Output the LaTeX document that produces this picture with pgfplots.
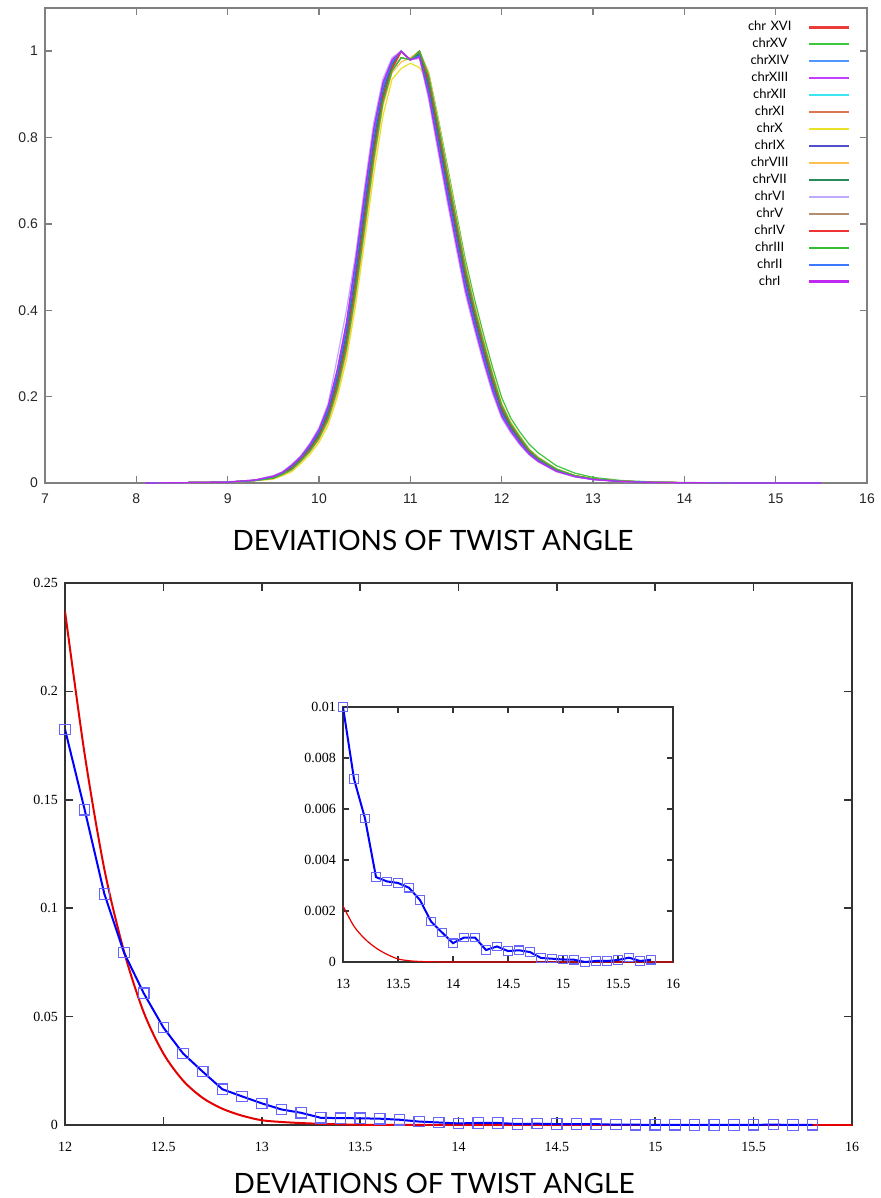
\documentclass[border=0pt]{standalone}
\usepackage{fontspec}
\usepackage{pgfplots}
\usepackage{pgfplotstable}
\pgfplotsset{compat=1.18}
\newfontfamily\gill{Lato}
\newfontfamily\helv{Liberation Sans}
\newfontfamily\tms{Liberation Serif}

\definecolor{cXVI}{RGB}{235,60,60}
\definecolor{cXV}{RGB}{60,200,60}
\definecolor{cXIV}{RGB}{80,150,255}
\definecolor{cXIII}{RGB}{200,60,255}
\definecolor{cXII}{RGB}{60,230,240}
\definecolor{cXI}{RGB}{220,120,80}
\definecolor{cX}{RGB}{235,225,40}
\definecolor{cIX}{RGB}{80,80,200}
\definecolor{cVIII}{RGB}{255,190,80}
\definecolor{cVII}{RGB}{40,140,90}
\definecolor{cVI}{RGB}{190,170,255}
\definecolor{cV}{RGB}{180,140,110}
\definecolor{cIV}{RGB}{240,50,50}
\definecolor{cIII}{RGB}{50,190,50}
\definecolor{cII}{RGB}{60,120,255}
\definecolor{cI}{RGB}{190,40,240}

% normalised histograms, one column per curve profile
\pgfplotstableread{
x    m4     m3     m2     m1     z0     p1     p2     p3     yel    grn
8.1  0      0      0      0      0      0      0      0      0      0
8.6  0.001  0.001  0.001  0.001  0.001  0.001  0.001  0.001  0.001  0.001
9.0  0.003  0.002  0.002  0.002  0.002  0.002  0.002  0.002  0.002  0.002
9.3  0.007  0.007  0.006  0.006  0.006  0.006  0.006  0.006  0.005  0.006
9.5  0.017  0.016  0.015  0.014  0.013  0.012  0.011  0.010  0.009  0.011
9.6  0.026  0.025  0.024  0.023  0.022  0.021  0.020  0.019  0.017  0.020
9.7  0.043  0.041  0.039  0.037  0.035  0.033  0.031  0.029  0.026  0.031
9.8  0.063  0.061  0.059  0.057  0.055  0.053  0.051  0.049  0.045  0.051
9.9  0.092  0.089  0.086  0.083  0.080  0.077  0.074  0.071  0.066  0.074
10.0 0.128  0.124  0.120  0.116  0.112  0.108  0.104  0.100  0.094  0.104
10.1 0.184  0.178  0.172  0.166  0.160  0.154  0.148  0.142  0.134  0.148
10.2 0.290  0.262  0.253  0.244  0.235  0.226  0.217  0.208  0.198  0.217
10.3 0.400  0.371  0.359  0.347  0.335  0.323  0.311  0.299  0.285  0.311
10.4 0.528  0.514  0.499  0.485  0.470  0.456  0.441  0.427  0.410  0.441
10.5 0.687  0.672  0.656  0.641  0.625  0.610  0.594  0.579  0.560  0.594
10.6 0.836  0.822  0.808  0.794  0.780  0.766  0.752  0.738  0.715  0.752
10.7 0.936  0.927  0.918  0.909  0.900  0.891  0.882  0.873  0.850  0.882
10.8 0.985  0.980  0.975  0.970  0.965  0.960  0.955  0.950  0.935  0.955
10.9 1.000  1.000  1.000  1.000  1.000  0.999  0.985  0.975  0.960  0.985
11.0 0.980  0.980  0.980  0.980  0.980  0.980  0.980  0.985  0.972  0.980
11.1 0.983  0.986  0.989  0.992  0.995  1.000  1.000  1.000  0.962  1.000
11.2 0.889  0.898  0.907  0.916  0.925  0.934  0.943  0.952  0.925  0.950
11.3 0.771  0.782  0.793  0.804  0.815  0.826  0.837  0.848  0.830  0.850
11.4 0.656  0.667  0.678  0.689  0.700  0.711  0.722  0.733  0.715  0.740
11.5 0.546  0.557  0.568  0.579  0.590  0.601  0.612  0.623  0.600  0.630
11.6 0.440  0.450  0.460  0.470  0.480  0.490  0.500  0.510  0.490  0.520
11.7 0.356  0.365  0.373  0.382  0.390  0.399  0.407  0.416  0.400  0.428
11.8 0.278  0.286  0.294  0.302  0.310  0.318  0.326  0.334  0.318  0.345
11.9 0.207  0.214  0.221  0.228  0.235  0.242  0.249  0.256  0.242  0.268
12.0 0.150  0.155  0.160  0.165  0.170  0.175  0.180  0.185  0.176  0.198
12.1 0.116  0.120  0.123  0.127  0.130  0.134  0.137  0.141  0.134  0.150
12.2 0.088  0.091  0.094  0.097  0.100  0.103  0.106  0.109  0.103  0.118
12.3 0.065  0.067  0.069  0.071  0.073  0.075  0.077  0.079  0.075  0.090
12.4 0.049  0.050  0.052  0.054  0.055  0.057  0.058  0.060  0.056  0.070
12.6 0.026  0.027  0.028  0.029  0.030  0.031  0.032  0.033  0.031  0.040
12.8 0.014  0.015  0.015  0.016  0.016  0.017  0.017  0.018  0.017  0.023
13.0 0.008  0.008  0.0085 0.009  0.009  0.0095 0.0095 0.010  0.009  0.013
13.3 0.0035 0.0035 0.0038 0.004  0.004  0.0042 0.0043 0.0045 0.004  0.006
13.7 0.001  0.001  0.0011 0.0012 0.0012 0.0013 0.0013 0.0014 0.0012 0.002
14.3 0.0003 0.0003 0.0003 0.0003 0.0003 0.0003 0.0003 0.0003 0.0003 0.0005
15.5 0      0      0      0      0      0      0      0      0      0
}\topdata

\pgfplotstableread{
x    y
12.0 0.1825
12.1 0.1454
12.2 0.1066
12.3 0.0795
12.4 0.0608
12.5 0.0450
12.6 0.0330
12.7 0.0246
12.8 0.0165
12.9 0.0132
13.0 0.0100
13.1 0.00718
13.2 0.00563
13.3 0.00333
13.4 0.00316
13.5 0.00310
13.6 0.00291
13.7 0.00243
13.8 0.00159
13.9 0.00116
14.0 0.00074
14.1 0.00096
14.2 0.00096
14.3 0.00047
14.4 0.00061
14.5 0.00043
14.6 0.00046
14.7 0.00039
14.8 0.00016
14.9 0.00013
15.0 0.00010
15.1 0.00009
15.2 0.00000
15.3 0.00004
15.4 0.00004
15.5 0.00008
15.6 0.00017
15.7 0.00004
15.8 0.00009
}\bluedata

\pgfplotstableread{
x    y
12.0 0.237
12.1 0.171
12.2 0.118
12.3 0.080
12.4 0.052
12.5 0.033
12.6 0.0205
12.7 0.0125
12.8 0.0075
12.9 0.0043
13.0 0.0022
13.1 0.0014
13.2 0.0009
13.3 0.00055
13.4 0.0003
13.5 0.00012
13.6 0.00005
13.7 0.00002
13.8 0.00001
14.0 0
15.0 0
16.0 0
}\reddata

\begin{document}
\begin{tikzpicture}
\path[use as bounding box] (0,0) rectangle (440.5pt,-599pt);

% ---- top panel ----
\begin{axis}[
  at={(22.5pt,-241.5pt)}, anchor=south west,
  scale only axis, width=411pt, height=237.5pt,
  xmin=7, xmax=16, ymin=0, ymax=1.1,
  xtick={7,8,...,16}, ytick={0,0.2,0.4,0.6,0.8,1},
  axis line style={gray, line width=0.7pt},
  every tick/.style={gray, line width=0.7pt},
  major tick length=3.5pt,
  /pgf/number format/assume math mode=true,
  ticklabel style={font=\helv\fontsize{7}{8}\selectfont, black!85},
  xticklabel style={yshift=-1.75pt},
  xlabel={DEVIATIONS OF TWIST ANGLE},
  xlabel style={font=\gill\fontsize{14}{16}\selectfont,
    at={(axis description cs:0.472,0)}, anchor=center, yshift=-28.5pt},
  legend plot pos=right,
  legend cell align=center,
  legend image code/.code={\draw[#1, line width=1.1pt] (0pt,0pt) -- (20pt,0pt);},
  legend style={at={(0.987,0.982)}, anchor=north east, draw=none, fill=none,
    font=\gill\fontsize{6.5}{7}\selectfont, row sep=1.97pt, column sep=7pt,
    nodes={inner sep=0pt, text height=5pt, text depth=1.5pt,
      text width=24pt, align=center}},
  every axis plot/.append style={line width=0.6pt},
]
\addplot[cXVI]   table[x=x,y=p1]  {\topdata}; \addlegendentry{chr XVI}
\addplot[cXV]    table[x=x,y=grn] {\topdata}; \addlegendentry{chrXV}
\addplot[cXIV]   table[x=x,y=m2]  {\topdata}; \addlegendentry{chrXIV}
\addplot[cXIII]  table[x=x,y=m3]  {\topdata}; \addlegendentry{chrXIII}
\addplot[cXII]   table[x=x,y=z0]  {\topdata}; \addlegendentry{chrXII}
\addplot[cXI]    table[x=x,y=p1]  {\topdata}; \addlegendentry{chrXI}
\addplot[cX]     table[x=x,y=yel] {\topdata}; \addlegendentry{chrX}
\addplot[cIX]    table[x=x,y=m1]  {\topdata}; \addlegendentry{chrIX}
\addplot[cVIII]  table[x=x,y=p3]  {\topdata}; \addlegendentry{chrVIII}
\addplot[cVII]   table[x=x,y=z0]  {\topdata}; \addlegendentry{chrVII}
\addplot[cVI]    table[x=x,y=m4]  {\topdata}; \addlegendentry{chrVI}
\addplot[cV]     table[x=x,y=p2]  {\topdata}; \addlegendentry{chrV}
\addplot[cIV]    table[x=x,y=p1]  {\topdata}; \addlegendentry{chrIV}
\addplot[cIII]   table[x=x,y=p2]  {\topdata}; \addlegendentry{chrIII}
\addplot[cII]    table[x=x,y=m2]  {\topdata}; \addlegendentry{chrII}
\addplot[cI]     table[x=x,y=m3]  {\topdata}; \addlegendentry{chrI}
\end{axis}

% ---- bottom panel ----
\begin{axis}[
  at={(32.5pt,-562.5pt)}, anchor=south west,
  scale only axis, width=393.5pt, height=271pt,
  xmin=12, xmax=16, ymin=0, ymax=0.25,
  xtick={12,12.5,...,16}, ytick={0,0.05,...,0.25},
  axis line style={black!80, line width=0.8pt},
  every tick/.style={black!80, line width=0.8pt},
  major tick length=4pt,
  scaled ticks=false,
  /pgf/number format/assume math mode=true,
  /pgf/number format/fixed, /pgf/number format/precision=3,
  ticklabel style={font=\tms\fontsize{7}{8}\selectfont},
  xticklabel style={yshift=-5pt},
  xlabel={DEVIATIONS OF TWIST ANGLE},
  xlabel style={font=\gill\fontsize{14}{16}\selectfont, text depth=0pt,
    at={(axis description cs:0.469,0)}, anchor=center, yshift=-29pt},
]
\addplot[red!90!black, line width=1pt, smooth] table {\reddata};
\addplot[blue, line width=1pt, mark=square, mark size=2.6pt,
  mark options={blue!60, line width=0.6pt}] table {\bluedata};
\end{axis}

% ---- inset ----
\begin{axis}[
  at={(171.5pt,-481pt)}, anchor=south west,
  scale only axis, width=165pt, height=127.5pt,
  xmin=13, xmax=16, ymin=0, ymax=0.01,
  xtick={13,13.5,...,16}, ytick={0,0.002,...,0.01},
  axis background/.style={fill=white},
  axis line style={black!80, line width=0.8pt},
  every tick/.style={black!80, line width=0.7pt},
  major tick length=3pt,
  scaled ticks=false,
  /pgf/number format/assume math mode=true,
  /pgf/number format/fixed, /pgf/number format/precision=3,
  ticklabel style={font=\tms\fontsize{7}{8}\selectfont},
  xticklabel style={yshift=-5pt},
]
\addplot[red!90!black, line width=0.6pt, smooth,
  restrict x to domain=13:16] table {\reddata};
\addplot[blue, line width=1pt, mark=square, mark size=2.1pt,
  mark options={blue!60, line width=0.6pt},
  restrict x to domain=13:16] table {\bluedata};
\end{axis}
\end{tikzpicture}
\end{document}
